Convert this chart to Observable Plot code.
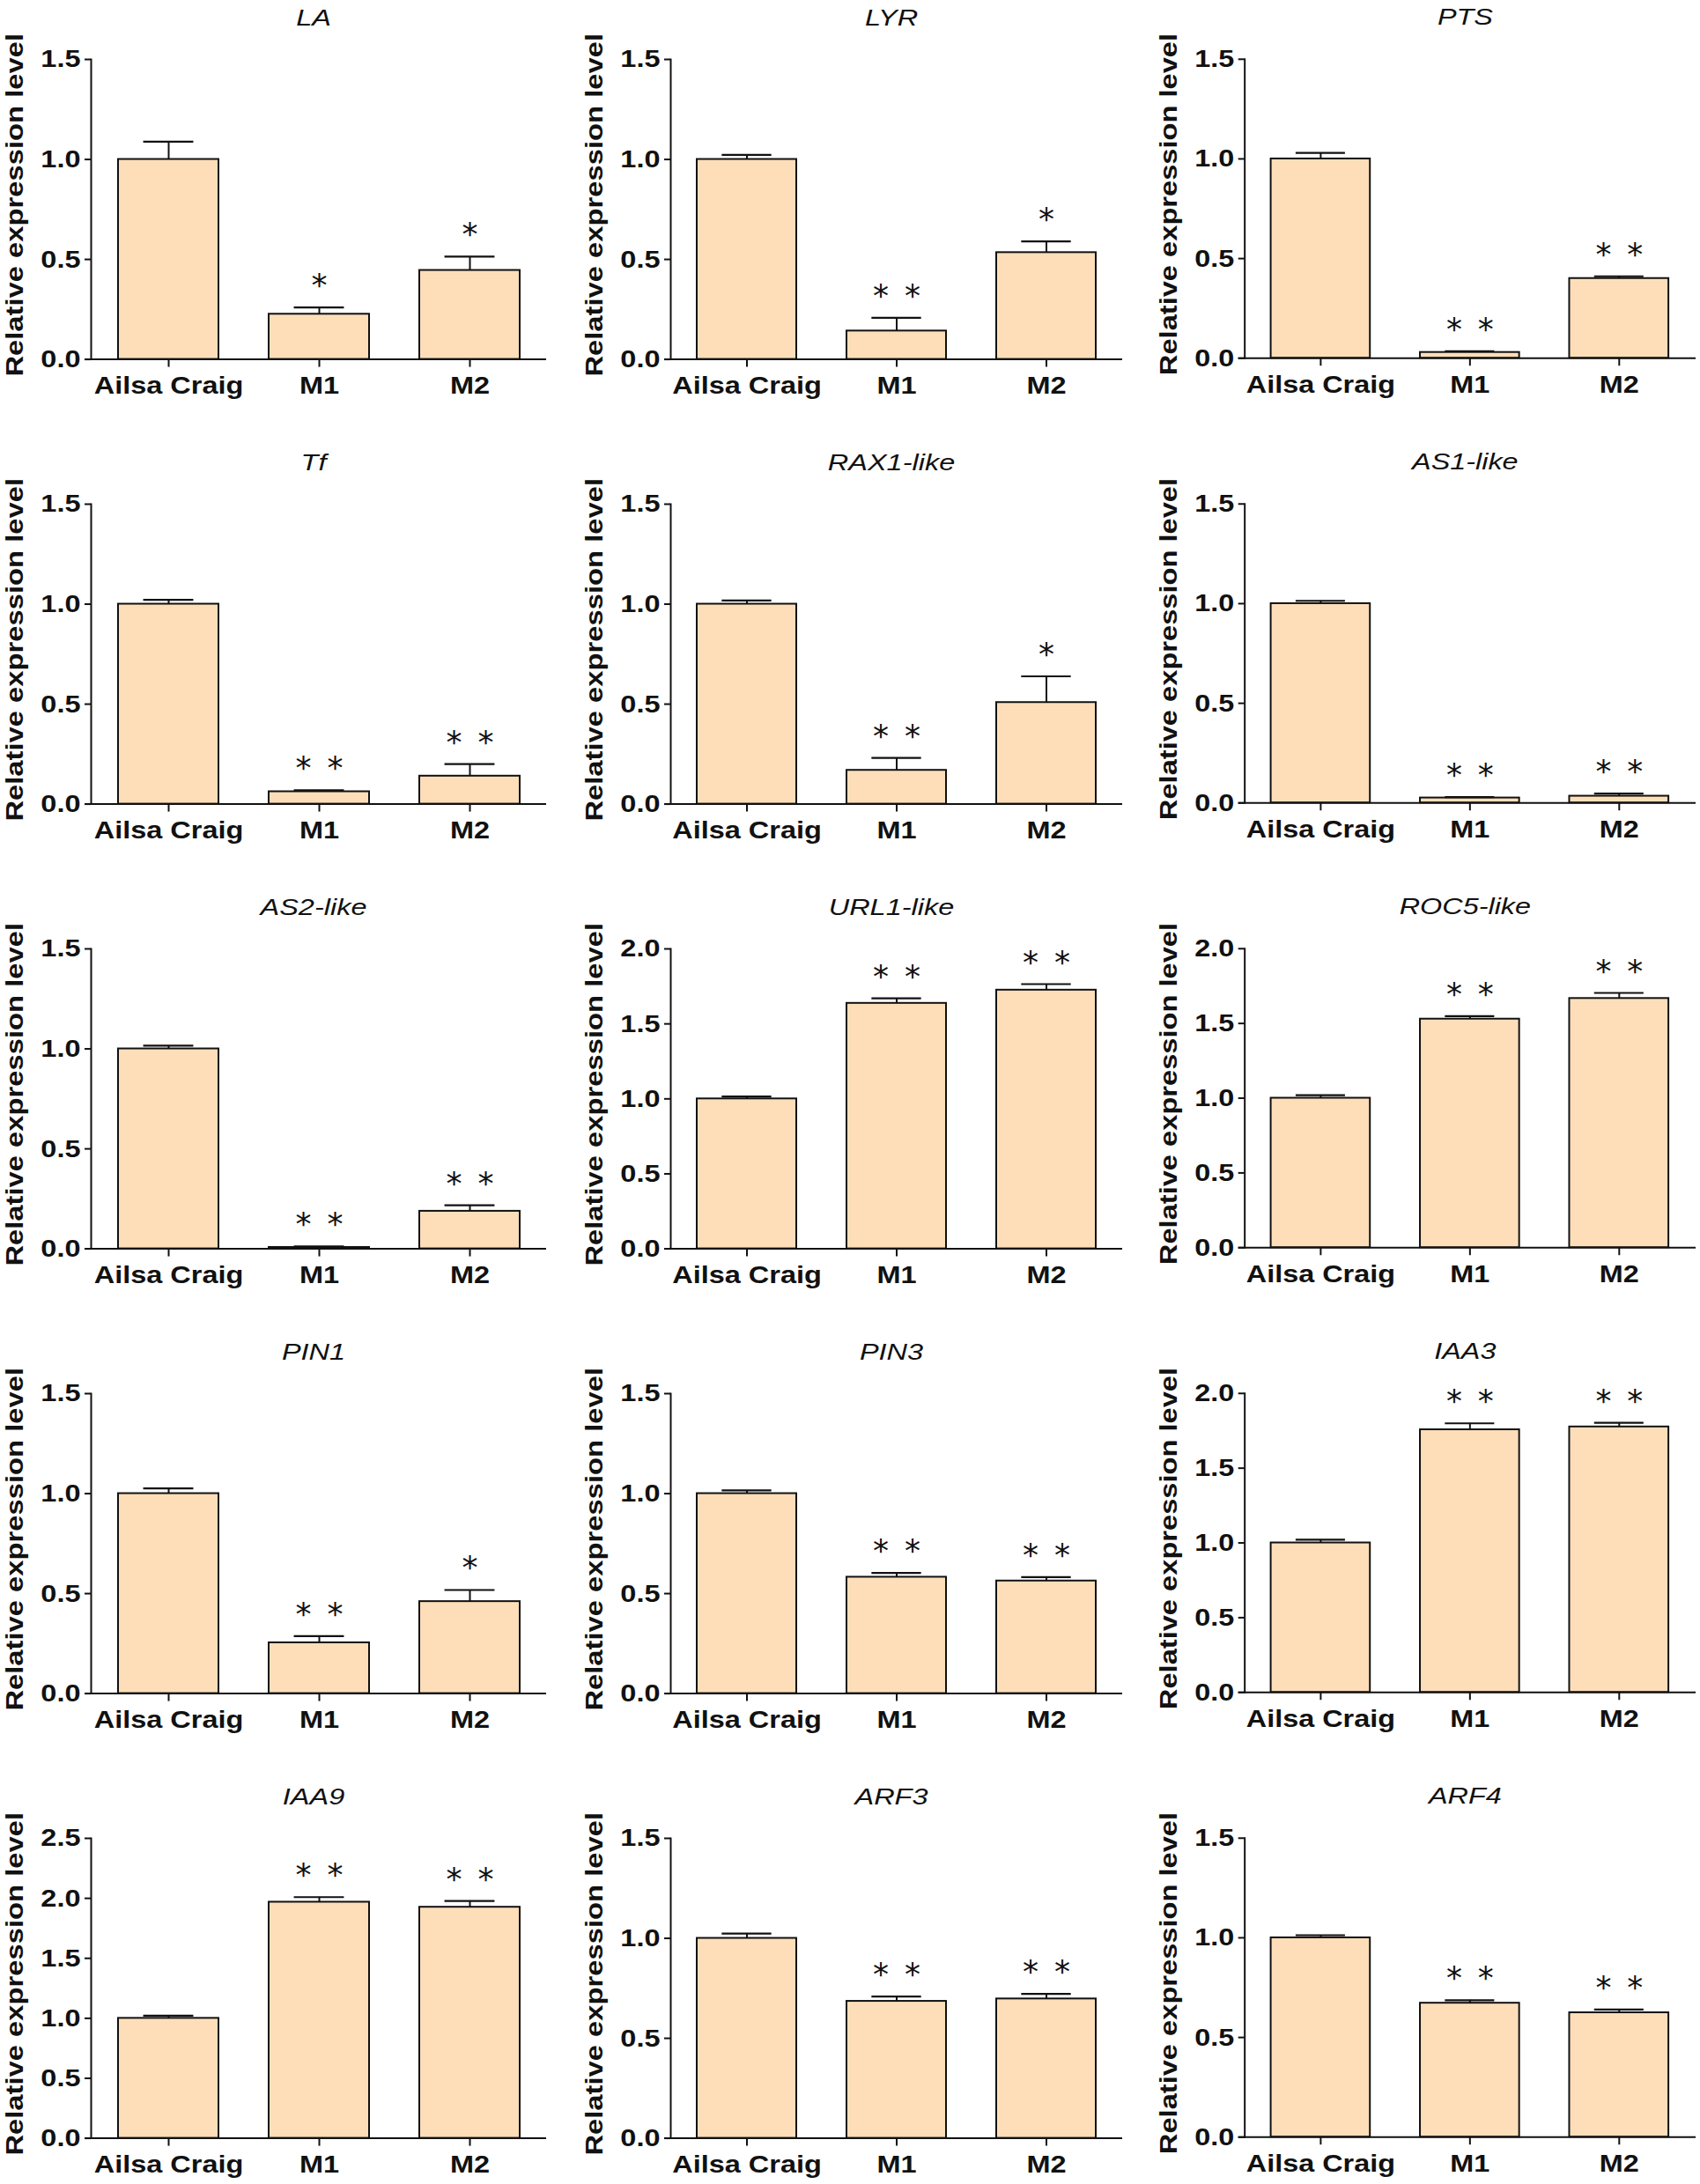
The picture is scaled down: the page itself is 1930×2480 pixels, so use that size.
<!DOCTYPE html>
<html>
<head>
<meta charset="utf-8">
<script src="https://cdn.jsdelivr.net/npm/d3@7"></script>
<script src="https://cdn.jsdelivr.net/npm/@observablehq/plot@0.6"></script>
<style>
html, body { margin: 0; padding: 0; background: #fff; }
#root { position: relative; width: 1930px; height: 2480px; overflow: hidden; background: #fff; }
.panel { position: absolute; }
.panel svg { overflow: visible; }
</style>
</head>
<body>
<div id="root"></div>
<script>
// ---------- DATA ----------
const groups = ["Ailsa Craig", "M1", "M2"];

const genes = ["LA", "LYR", "PTS",
               "Tf", "RAX1-like", "AS1-like",
               "AS2-like", "URL1-like", "ROC5-like",
               "PIN1", "PIN3", "IAA3",
               "IAA9", "ARF3", "ARF4"];

// mean relative expression (Ailsa Craig, M1, M2)
const means = [
  [1.00, 0.226, 0.445],
  [1.00, 0.142, 0.534],
  [1.00, 0.029, 0.400],
  [1.00, 0.062, 0.140],
  [1.00, 0.169, 0.508],
  [1.00, 0.025, 0.034],
  [1.00, 0.007, 0.188],
  [1.00, 1.637, 1.725],
  [1.00, 1.529, 1.667],
  [1.00, 0.254, 0.460],
  [1.00, 0.582, 0.563],
  [1.00, 1.757, 1.776],
  [1.00, 1.968, 1.926],
  [1.00, 0.685, 0.697],
  [1.00, 0.672, 0.624]
];

// upper error bar (SE)
const errors = [
  [0.089, 0.034, 0.069],
  [0.023, 0.066, 0.056],
  [0.030, 0.006, 0.011],
  [0.022, 0.007, 0.060],
  [0.018, 0.062, 0.131],
  [0.014, 0.004, 0.013],
  [0.016, 0.005, 0.030],
  [0.016, 0.033, 0.040],
  [0.020, 0.020, 0.037],
  [0.026, 0.033, 0.058],
  [0.016, 0.021, 0.019],
  [0.022, 0.043, 0.028],
  [0.022, 0.042, 0.052],
  [0.024, 0.024, 0.025],
  [0.013, 0.015, 0.016]
];

// significance marks
const signif = [
  ["", "*", "*"],
  ["", "**", "*"],
  ["", "**", "**"],
  ["", "**", "**"],
  ["", "**", "*"],
  ["", "**", "**"],
  ["", "**", "**"],
  ["", "**", "**"],
  ["", "**", "**"],
  ["", "**", "*"],
  ["", "**", "**"],
  ["", "**", "**"],
  ["", "**", "**"],
  ["", "**", "**"],
  ["", "**", "**"]
];

// y-axis maximum per panel
const yMax = [1.5, 1.5, 1.5,
              1.5, 1.5, 1.5,
              1.5, 2.0, 2.0,
              1.5, 1.5, 2.0,
              2.5, 1.5, 1.5];

const yTickStep = 0.5;
const yLabel = "Relative expression level";

// ---------- LAYOUT / STYLE ----------
const colAxisX = [103, 761, 1413];
const colAxisEnd = [620, 1274, 1927];
const rowStep = 505;
const firstTop = 66.7;
const plotH = 340.6;
const marginLeft = 100;
const marginTop = 67;
const svgH = 460;
const marginBottom = svgH - marginTop - plotH;
const fillColor = "#FDDEB9";
const ink = "#111";
const sans = "'Liberation Sans', Arial, sans-serif";

// horizontal stretch of a text element around its anchor, to match the wide lettering of the original
function stretchText(t, sx) {
  const tr = t.getAttribute("transform");
  if (tr) t.setAttribute("transform", `${tr} scale(${sx},1)`);
  else {
    const x = +t.getAttribute("x") || 0;
    t.setAttribute("transform", `translate(${x},0) scale(${sx},1) translate(${-x},0)`);
  }
}

const root = document.getElementById("root");

genes.forEach((gene, i) => {
  const col = i % 3, row = Math.floor(i / 3);
  const plotW = colAxisEnd[col] - colAxisX[col];
  const marginRight = 5;
  const width = marginLeft + plotW + marginRight;
  const pi = 1 / 3, po = 0.175;
  const step = plotW / (groups.length - pi + 2 * po);
  const bw = step * (1 - pi);
  const capInset = bw / 4;

  const data = groups.map((g, j) => ({
    group: g,
    mean: means[i][j],
    top: means[i][j] + errors[i][j],
    sig: signif[i][j].split("").join("\u2002")
  }));
  const ticks = d3.range(0, yMax[i] + 1e-9, yTickStep);

  const chart = Plot.plot({
    width,
    height: svgH,
    marginLeft,
    marginRight,
    marginTop,
    marginBottom,
    style: { fontFamily: sans, color: ink, background: "transparent" },
    x: { domain: groups, paddingInner: pi, paddingOuter: po, axis: null },
    y: { domain: [0, yMax[i]], axis: null },
    marks: [
      Plot.barY(data, { x: "group", y: "mean", fill: fillColor, stroke: ink, strokeWidth: 2 }),
      Plot.ruleX(data, { x: "group", y1: "mean", y2: "top", stroke: ink, strokeWidth: 2 }),
      Plot.tickY(data, { x: "group", y: "top", stroke: ink, strokeWidth: 2.2, insetLeft: capInset, insetRight: capInset }),
      Plot.text(data, { x: "group", y: "top", text: "sig", dy: -13, lineAnchor: "bottom",
        fontFamily: "'DejaVu Sans', sans-serif", fontSize: 36, fill: ink }),
      Plot.axisY({ ticks, tickFormat: d3.format(".1f"), tickSize: 7, tickPadding: 5,
        fontSize: 28, fontWeight: "bold", strokeWidth: 2, label: null }),
      Plot.axisX({ tickSize: 9, tickPadding: 10, fontSize: 28, fontWeight: "bold",
        strokeWidth: 2, label: null }),
      Plot.ruleY([0], { stroke: ink, strokeWidth: 2, insetLeft: -7 }),
      Plot.frame({ anchor: "left", stroke: ink, strokeWidth: 2 }),
      Plot.text([gene], { frameAnchor: "top", dy: -47, dx: -6, lineAnchor: "middle",
        fontStyle: "italic", fontSize: 25, fill: ink }),
      Plot.text([yLabel], { frameAnchor: "left", rotate: -90, dx: -86.5, dy: -5,
        lineAnchor: "middle", textAnchor: "middle", fontWeight: "bold", fontSize: 28, fill: ink })
    ]
  });

  chart.querySelectorAll("text").forEach(t => {
    const s = t.textContent;
    if (s.includes("*")) return;
    if (s === gene) stretchText(t, 1.3);
    else if (s === yLabel) stretchText(t, 1.17);
    else stretchText(t, 1.16);
  });

  const div = document.createElement("div");
  div.className = "panel";
  div.style.left = (colAxisX[col] - marginLeft) + "px";
  div.style.top = (row * rowStep + firstTop - marginTop) + "px";
  div.appendChild(chart);
  root.appendChild(div);
});
</script>
</body>
</html>
